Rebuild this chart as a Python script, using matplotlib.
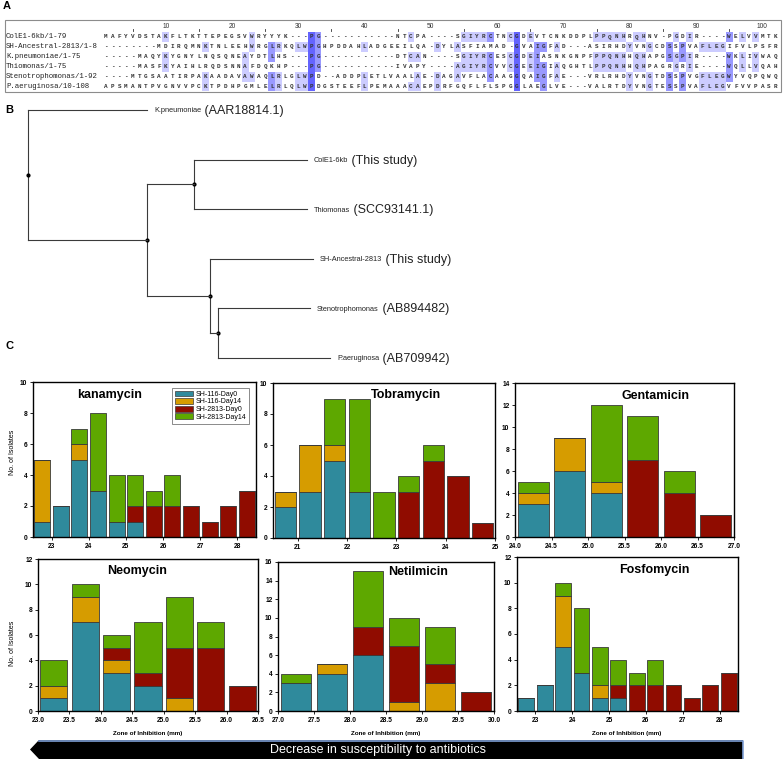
import matplotlib
matplotlib.use('Agg')
import matplotlib.pyplot as plt
from matplotlib.patches import Rectangle, Polygon
from collections import Counter

plt.rcParams['font.family'] = ['Liberation Sans', 'DejaVu Sans']

W, H = 783, 759

#### panel A : alignment ####
aln_names = ['ColE1-6kb/1-79', 'SH-Ancestral-2813/1-8', 'K.pneumoniae/1-75',
             'Thiomonas/1-75', 'Stenotrophomonas/1-92', 'P.aeruginosa/10-108']
aln_seqs = [
    'MAFYVDSTAK' 'FLTKTTEPEG' 'SVWRYYYK---' 'PG' '-----------' 'NTCPA' '----'
    'SGIYRCTNCG' 'DEVTCNKDDP' 'LPPQNHRQHN' 'V-PGDIR' '----' 'WELVVMTK',
    '--------' 'MDIRQMNKTNLEEHWRGLRKQLW' 'PG' 'HPDDAHLADGEE' 'ILQA' '-'
    'DYLASFIAMAD' '-' 'G' 'VAIGFAD' '---' 'ASIRHDYVNGCD' 'SSP' 'VAFLEG' 'IFVLPSFR',
    '-----' 'MAQYKYGNYLNQSQNEAYDTLHS' '---' 'PG' '-----------' 'DTCAN' '----'
    'SGIYRCESCG' 'DEIASNKGNP' 'FPPQNHHQHA' 'PGSGPIR' '----' 'WKLIVWAQ',
    '-----' 'MASFKYAIHLRQDSNNAFDQKHP' '---' 'PG' '-----------' 'IVAPY' '----'
    'AGIYRCVVCG' 'EEIGIAQGHT' 'LPPQNHHQHP' 'AGRGRIE' '----' 'WQLLVQAH',
    '----' 'MTGSAATIRPAKAADAVAWAQLRLGLW' 'PD' '--' 'ADDPLETLVAALAE' '-'
    'DAGAVFLACAAGGQAIGFAE' '---' 'VRLRHDYVNGTD' 'SSPVGFLEGWYVQPQWQ',
    'APSMANTPVGNVVPCKTPDHPGMLELRLQLW' 'PD' 'GSTEEFLPEMAAACAE'
    'PDRFGQFLFLSPGGLAEGLVE' '---' 'VALRTDYVNGTE' 'SSPVAFLEGVFVVPASR',
]
aln_len = 102
aln_seqs = [s.ljust(aln_len, '-')[:aln_len] for s in aln_seqs]

#### panel B : tree (branch lengths) ####
tree = [
    ('K.pneumoniae', '(AAR18814.1)', 119),
    ([
        ([('ColE1-6kb', '(This study)', 113),
          ('Thiomonas', '(SCC93141.1)', 113)], 47),
        ([('SH-Ancestral-2813', '(This study)', 103),
          ([('Stenotrophomonas', '(AB894482)', 92),
            ('P.aeruginosa', '(AB709942)', 112)], 8)], 63),
    ], 119),
]

#### panel C : zone of inhibition histograms ####
groups = ['SH-116-Day0', 'SH-116-Day14', 'SH-2813-Day0', 'SH-2813-Day14']
group_colors = ['#2f8a9c', '#d69c00', '#900c00', '#5ea800']

kan_bins = [22.75, 23.25, 23.75, 24.25, 24.75, 25.25, 25.75, 26.25, 26.75, 27.25, 27.75, 28.25]
kan_116_d0 = [1, 2, 5, 3, 1, 1, 0, 0, 0, 0, 0, 0]
kan_116_d14 = [4, 0, 1, 0, 0, 0, 0, 0, 0, 0, 0, 0]
kan_2813_d0 = [0, 0, 0, 0, 0, 1, 2, 2, 2, 1, 2, 3]
kan_2813_d14 = [0, 0, 1, 5, 3, 2, 1, 2, 0, 0, 0, 0]

tob_bins = [20.75, 21.25, 21.75, 22.25, 22.75, 23.25, 23.75, 24.25, 24.75]
tob_116_d0 = [2, 3, 5, 3, 0, 0, 0, 0, 0]
tob_116_d14 = [1, 3, 1, 0, 0, 0, 0, 0, 0]
tob_2813_d0 = [0, 0, 0, 0, 0, 3, 5, 4, 1]
tob_2813_d14 = [0, 0, 3, 6, 3, 1, 1, 0, 0]

gen_bins = [24.25, 24.75, 25.25, 25.75, 26.25, 26.75]
gen_116_d0 = [3, 6, 4, 0, 0, 0]
gen_116_d14 = [1, 3, 1, 0, 0, 0]
gen_2813_d0 = [0, 0, 0, 7, 4, 2]
gen_2813_d14 = [1, 0, 7, 4, 2, 0]

neo_bins = [23.25, 23.75, 24.25, 24.75, 25.25, 25.75, 26.25]
neo_116_d0 = [1, 7, 3, 2, 0, 0, 0]
neo_116_d14 = [1, 2, 1, 0, 1, 0, 0]
neo_2813_d0 = [0, 0, 1, 1, 4, 5, 2]
neo_2813_d14 = [2, 1, 1, 4, 4, 2, 0]

net_bins = [27.25, 27.75, 28.25, 28.75, 29.25, 29.75]
net_116_d0 = [3, 4, 6, 0, 0, 0]
net_116_d14 = [0, 1, 0, 1, 3, 0]
net_2813_d0 = [0, 0, 3, 6, 2, 2]
net_2813_d14 = [1, 0, 6, 3, 4, 0]

fos_bins = [22.75, 23.25, 23.75, 24.25, 24.75, 25.25, 25.75, 26.25, 26.75, 27.25, 27.75, 28.25]
fos_116_d0 = [1, 2, 5, 3, 1, 1, 0, 0, 0, 0, 0, 0]
fos_116_d14 = [0, 0, 4, 0, 1, 0, 0, 0, 0, 0, 0, 0]
fos_2813_d0 = [0, 0, 0, 0, 0, 1, 2, 2, 2, 1, 2, 3]
fos_2813_d14 = [0, 0, 1, 5, 3, 2, 1, 2, 0, 0, 0, 0]


fig = plt.figure(figsize=(W / 100, H / 100), dpi=100)
ov = fig.add_axes([0, 0, 1, 1])
ov.set_xlim(0, W)
ov.set_ylim(H, 0)
ov.axis('off')

#### A ####
ov.text(3, 6, 'A', fontsize=8, fontweight='bold', va='center')
ov.add_patch(Rectangle((5, 20), 776, 72, fill=False, ec='#8c8c8c', lw=0.8))
col0, col_w = 106, 6.63
row0, row_h = 37, 9.9
for c in range(5, aln_len + 1, 5):
    x = col0 + (c - 1) * col_w
    if c % 10 == 0:
        ov.text(x, 26.5, str(c), fontsize=4.8, ha='center', va='center', color='#333333')
    else:
        ov.plot([x, x], [28.5, 30.5], color='#333333', lw=0.6)

# percentage identity colouring (jalview like)
pid_cols = [(0.8, '#6464ff'), (0.6, '#9999ff'), (0.4, '#ccccff')]
for c in range(aln_len):
    col = [s[c] for s in aln_seqs]
    cnt = Counter([r for r in col if r != '-'])
    if not cnt:
        continue
    top, n = cnt.most_common(1)[0]
    frac = n / len(aln_seqs)
    for i, r in enumerate(col):
        if r != top:
            continue
        for th, fc in pid_cols:
            if frac > th:
                ov.add_patch(Rectangle((col0 + c * col_w - col_w / 2, row0 + i * row_h - row_h / 2),
                                       col_w, row_h, fc=fc, ec='none'))
                break

for i, (name, seq) in enumerate(zip(aln_names, aln_seqs)):
    y = row0 + i * row_h
    ov.text(6, y, name, fontsize=5.3, family='Liberation Mono', va='center', color='#222222')
    for c, r in enumerate(seq):
        ov.text(col0 + c * col_w, y, r, fontsize=4.3, family='Liberation Mono',
                fontweight='bold', ha='center', va='center', color='#333333')

#### B ####
ov.text(5, 110, 'B', fontsize=8, fontweight='bold', va='center')
leaf_y0, leaf_dy = 110, 49.6
tree_x0 = 28
leaf_count = [0]


def draw_node(node, x):
    # node is list of (child, length) or leaf tuple; returns y
    ys = []
    for child in node:
        if isinstance(child[0], str):
            name, acc, length = child
            y = leaf_y0 + leaf_count[0] * leaf_dy
            leaf_count[0] += 1
            x2 = x + length
            ov.plot([x, x2], [y, y], color='#3a3a3a', lw=0.8)
            t = ov.text(x2 + 7, y + 1, name, fontsize=5.3, va='center', color='#222222')
            ov.annotate(' ' + acc, xy=(1, 0.5), xycoords=t, va='center', fontsize=9,
                        color='#222222')
            ys.append(y)
        else:
            sub, length = child
            x2 = x + length
            y = draw_node(sub, x2)
            ov.plot([x, x2], [y, y], color='#3a3a3a', lw=0.8)
            ys.append(y)
    ov.plot([x, x], [min(ys), max(ys)], color='#3a3a3a', lw=0.8)
    ym = (min(ys) + max(ys)) / 2
    ov.plot(x, ym, 'o', color='black', ms=2)
    return ym


draw_node(tree, tree_x0)

#### C ####
ov.text(5, 346, 'C', fontsize=8, fontweight='bold', va='center')


def px_axes(l, t, r, b):
    return fig.add_axes([l / W, 1 - b / H, (r - l) / W, (b - t) / H])


def draw_hist(ax, bins, series, title, tpos, xlim, ymax, xticks, fmt):
    bottom = [0] * len(bins)
    for vals, colr in zip(series, group_colors):
        ax.bar(bins, vals, width=0.43, bottom=bottom, color=colr,
               edgecolor='#3a3a3a', linewidth=0.6)
        bottom = [b + v for b, v in zip(bottom, vals)]
    ax.set_xlim(*xlim)
    ax.set_ylim(0, ymax)
    ax.set_yticks(range(0, ymax + 1, 2))
    ax.set_xticks(xticks)
    ax.set_xticklabels([fmt.format(v) for v in xticks])
    ax.tick_params(labelsize=4.8, length=2, width=0.6, pad=2)
    for lb in ax.get_xticklabels() + ax.get_yticklabels():
        lb.set_fontweight('bold')
    for sp in ax.spines.values():
        sp.set_linewidth(1.0)
    ax.text(tpos[0], tpos[1], title, transform=ax.transAxes, fontsize=9,
            fontweight='bold', ha='center', va='center')


ax1 = px_axes(33, 382, 256, 537)
draw_hist(ax1, kan_bins, [kan_116_d0, kan_116_d14, kan_2813_d0, kan_2813_d14],
          'kanamycin', (0.345, 0.915), (22.5, 28.5), 10, [23, 24, 25, 26, 27, 28], '{:d}')
handles = [Rectangle((0, 0), 1, 1, fc=c, ec='#3a3a3a', lw=0.5) for c in group_colors]
leg = ax1.legend(handles, groups, loc='upper right', bbox_to_anchor=(0.985, 0.985),
                 fontsize=5, frameon=True, fancybox=False, handlelength=2.6,
                 handleheight=0.9, borderpad=0.4, labelspacing=0.05, handletextpad=0.4)
leg.get_frame().set_edgecolor('#555555')
leg.get_frame().set_linewidth(0.6)

ax2 = px_axes(273, 383, 495, 538)
draw_hist(ax2, tob_bins, [tob_116_d0, tob_116_d14, tob_2813_d0, tob_2813_d14],
          'Tobramycin', (0.6, 0.92), (20.5, 25.0), 10, [21, 22, 23, 24, 25], '{:d}')

ax3 = px_axes(515, 383, 734, 537)
draw_hist(ax3, gen_bins, [gen_116_d0, gen_116_d14, gen_2813_d0, gen_2813_d14],
          'Gentamicin', (0.64, 0.915), (24.0, 27.0), 14,
          [24.0, 24.5, 25.0, 25.5, 26.0, 26.5, 27.0], '{:.1f}')

ax4 = px_axes(38, 559, 258, 711)
draw_hist(ax4, neo_bins, [neo_116_d0, neo_116_d14, neo_2813_d0, neo_2813_d14],
          'Neomycin', (0.45, 0.92), (23.0, 26.5), 12,
          [23.0, 23.5, 24.0, 24.5, 25.0, 25.5, 26.0, 26.5], '{:.1f}')

ax5 = px_axes(278, 562, 494, 711)
draw_hist(ax5, net_bins, [net_116_d0, net_116_d14, net_2813_d0, net_2813_d14],
          'Netilmicin', (0.65, 0.93), (27.0, 30.0), 16,
          [27.0, 27.5, 28.0, 28.5, 29.0, 29.5, 30.0], '{:.1f}')

ax6 = px_axes(517, 557, 738, 711)
draw_hist(ax6, fos_bins, [fos_116_d0, fos_116_d14, fos_2813_d0, fos_2813_d14],
          'Fosfomycin', (0.62, 0.915), (22.5, 28.5), 12, [23, 24, 25, 26, 27, 28], '{:d}')

for y in (452, 643):
    ov.text(13, y, 'No. of Isolates', rotation=90, fontsize=5, ha='center', va='center')
for x in (148, 386, 627):
    ov.text(x, 733, 'Zone of Inhibition (mm)', fontsize=4.5, fontweight='bold',
            ha='center', va='center')

# arrow at the bottom
ov.add_patch(Polygon([(30, 749.5), (39, 740), (743, 740), (743, 759), (39, 759)],
                     closed=True, fc='black', ec='none'))
ov.plot([39, 743, 743], [740.5, 740.5, 759], color='#7f9fd6', lw=1.2)
ov.text(378, 749.5, 'Decrease in susceptibility to antibiotics', color='white',
        fontsize=9, ha='center', va='center')

fig.savefig('out.png', dpi=100)
